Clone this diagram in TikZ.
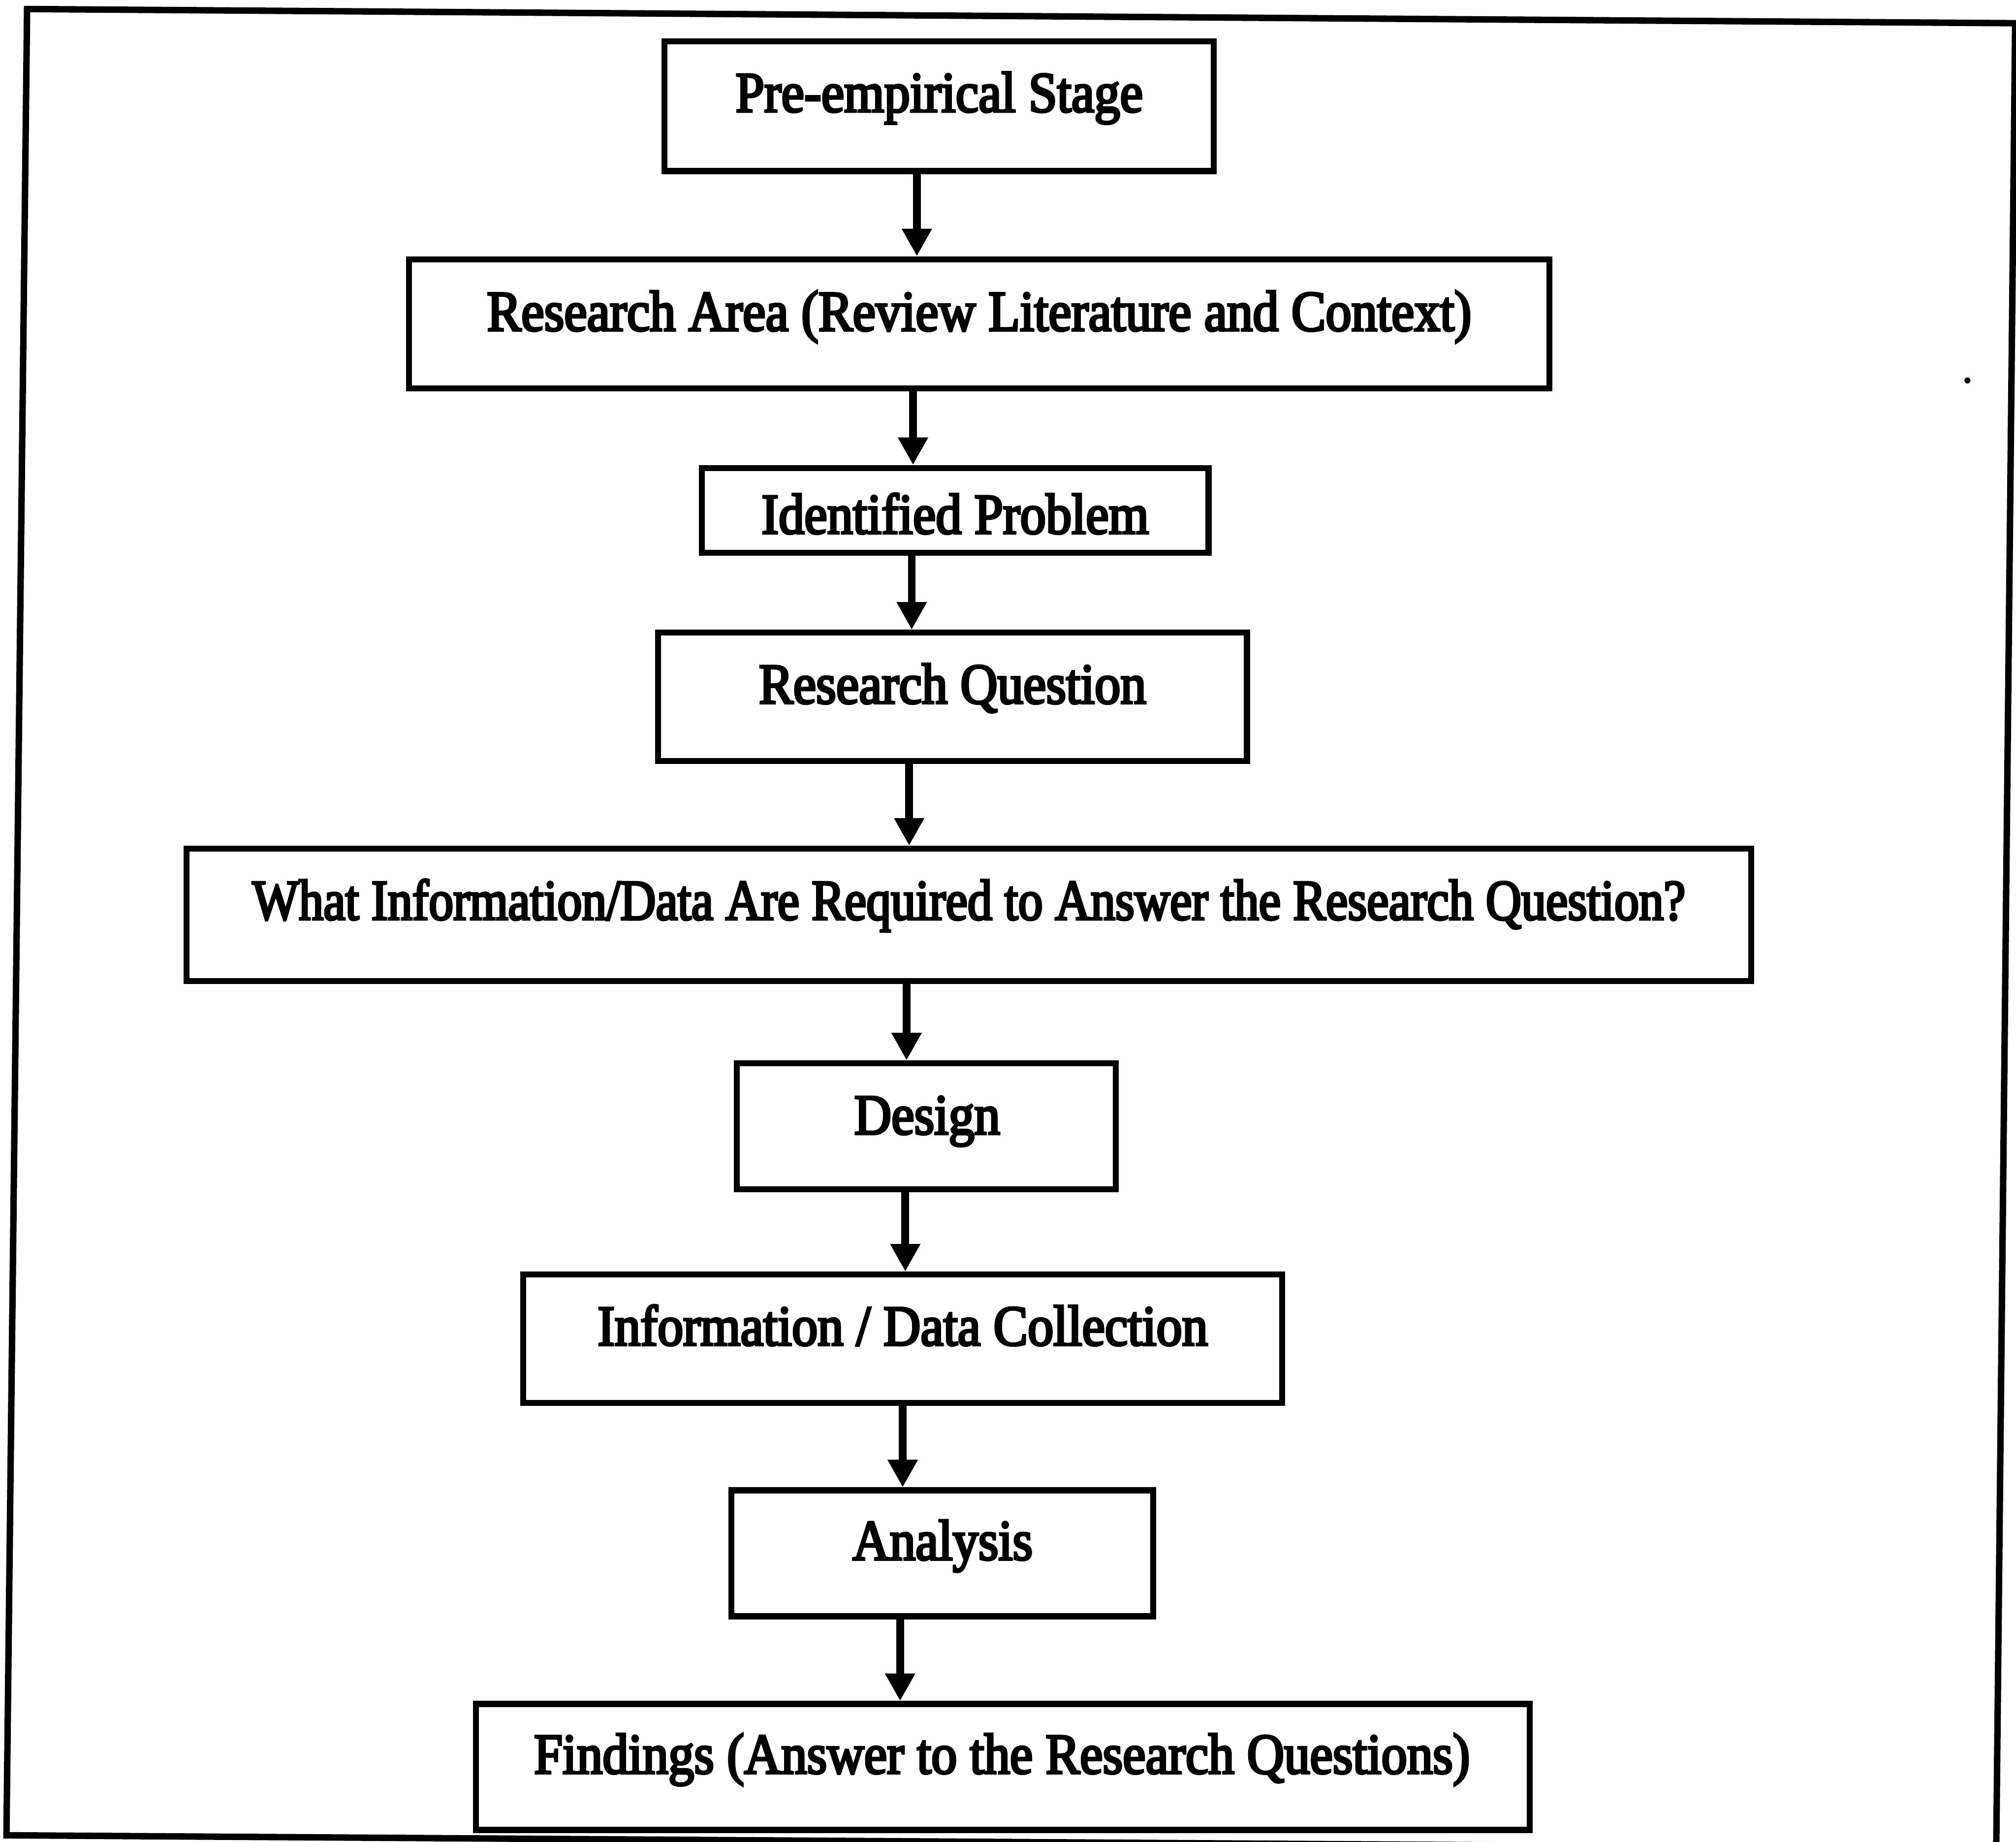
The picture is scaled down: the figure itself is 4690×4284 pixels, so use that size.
\documentclass[tikz,border=0pt]{standalone}
\usepackage{fontspec}
\setmainfont{Liberation Serif}[FakeStretch=0.9,FakeBold=4]
\usetikzlibrary{arrows.meta}
\begin{document}
\begin{tikzpicture}[x=1pt,y=-1pt]
\tikzset{
  box/.style={draw, line width=14pt, rectangle, inner sep=0pt},
  lbl/.style={anchor=base, inner sep=0pt, font=\fontsize{133}{150}\selectfont},
  arr/.style={line width=18pt, -{Triangle[width=66pt,length=64pt]}},
  frameline/.style={line width=15pt, line join=miter},
}
\useasboundingbox (0,0) rectangle (4690,4284);
\begin{scope}
\clip (0,0) rectangle (4690,4284);
\draw[frameline] (63,21) -- (4688,54) -- (4644,4300) -- (15,4269) -- cycle;
\end{scope}

% boxes
\node[box, minimum width=1278pt, minimum height=302pt] (n1) at (2185,247) {};
\node[box, minimum width=2653pt, minimum height=300pt] (n2) at (2278,753) {};
\node[box, minimum width=1179pt, minimum height=197pt] (n3) at (2222,1187) {};
\node[box, minimum width=1370pt, minimum height=299pt] (n4) at (2216,1621) {};
\node[box, minimum width=3640pt, minimum height=308pt] (n5) at (2254,2128) {};
\node[box, minimum width=882pt, minimum height=293pt] (n6) at (2155,2620) {};
\node[box, minimum width=1765pt, minimum height=299pt] (n7) at (2100,3114) {};
\node[box, minimum width=981pt, minimum height=293pt] (n8) at (2192,3613) {};
\node[box, minimum width=2452pt, minimum height=293pt] (n9) at (2333,4110) {};

% labels
\node[lbl] (t1) at (2185,260) {Pre-empirical Stage};
\node[lbl] (t2) at (2278,769) {Research Area (Review Literature and Context)};
\node[lbl] (t3) at (2222,1241) {Identified Problem};
\node[lbl] (t4) at (2216,1636) {Research Question};
\node[lbl, xscale=0.957, transform shape] (t5) at (2254,2139) {What Information/Data Are Required to Answer the Research Question?};
\node[lbl] (t6) at (2157,2638) {Design};
\node[lbl] (t7) at (2100,3129) {Information / Data Collection};
\node[lbl] (t8) at (2193,3628) {Analysis};
\node[lbl] (t9) at (2331,4125) {Findings (Answer to the Research Questions)};

% connector columns
\coordinate (a1) at (2133,0);
\coordinate (a2) at (2124,0);
\coordinate (a3) at (2121,0);
\coordinate (a4) at (2115,0);
\coordinate (a5) at (2109,0);
\coordinate (a6) at (2106,0);
\coordinate (a7) at (2100,0);
\coordinate (a8) at (2094,0);

\draw[arr] (n1.south -| a1) -- (n2.north -| a1);
\draw[arr] (n2.south -| a2) -- (n3.north -| a2);
\draw[arr] (n3.south -| a3) -- (n4.north -| a3);
\draw[arr] (n4.south -| a4) -- (n5.north -| a4);
\draw[arr] (n5.south -| a5) -- (n6.north -| a5);
\draw[arr] (n6.south -| a6) -- (n7.north -| a6);
\draw[arr] (n7.south -| a7) -- (n8.north -| a7);
\draw[arr] (n8.south -| a8) -- (n9.north -| a8);

% speck
\fill (4577,885) circle (7pt);
\end{tikzpicture}
\end{document}
